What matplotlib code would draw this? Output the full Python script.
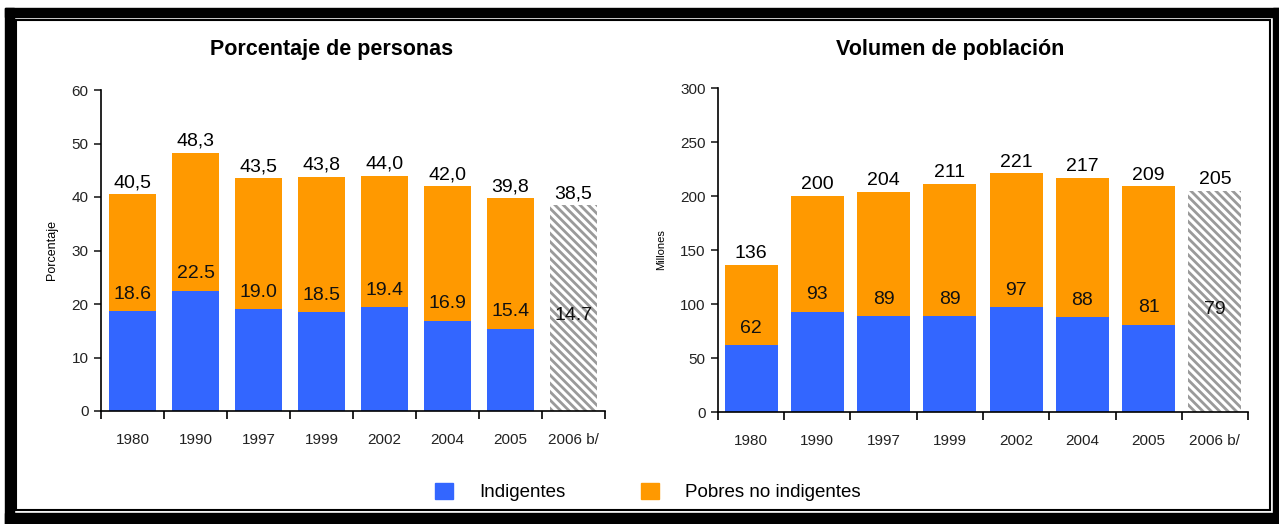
import matplotlib.pyplot as plt
from matplotlib.patches import Rectangle
from matplotlib.ticker import FixedLocator
import numpy as np

plt.rcParams['font.family'] = ['Liberation Sans', 'DejaVu Sans']
plt.rcParams['hatch.linewidth'] = 2.0

years = ['1980', '1990', '1997', '1999', '2002', '2004', '2005', '2006 b/']
pct_total = [40.5, 48.3, 43.5, 43.8, 44.0, 42.0, 39.8, 38.5]
pct_indig = [18.6, 22.5, 19.0, 18.5, 19.4, 16.9, 15.4, 14.7]
mill_total = [136, 200, 204, 211, 221, 217, 209, 205]
mill_indig = [62, 93, 89, 89, 97, 88, 81, 79]

BLUE = '#3366ff'
ORANGE = '#ff9900'
W, H = 1279, 524

fig = plt.figure(figsize=(W / 100, H / 100), dpi=100)


def px_axes(x0, y0, x1, y1):
    # pixel box (top-left origin) -> figure fraction
    return fig.add_axes([x0 / W, 1 - y1 / H, (x1 - x0) / W, (y1 - y0) / H])


def draw_panel(ax, total, indig, ymax, step, ylabel, width, fmt_top, fmt_ind, ylsize):
    x = np.arange(len(years))
    rest = [t - i for t, i in zip(total, indig)]
    b1 = ax.bar(x, indig, width, color=BLUE, linewidth=0)
    b2 = ax.bar(x, rest, width, bottom=indig, color=ORANGE, linewidth=0)
    # last year is an estimate: hatched grey
    for p in (b1[-1], b2[-1]):
        p.set_facecolor('white')
        p.set_edgecolor('#9a9a9a')
        p.set_hatch('\\\\\\\\')
        p.set_linewidth(0)
    for xi, t, i in zip(x, total, indig):
        ax.annotate(fmt_top(t), (xi, t), xytext=(0, 2), textcoords='offset points',
                    ha='center', va='bottom', fontsize=14)
        ax.annotate(fmt_ind(i), (xi, i), xytext=(0, 6), textcoords='offset points',
                    ha='center', va='bottom', fontsize=14, color='#111111')
    ax.set_xlim(-0.5, len(years) - 0.5)
    ax.set_ylim(0, ymax)
    ax.set_yticks(np.arange(0, ymax + 1, step))
    ax.set_xticks(x)
    ax.set_xticklabels(years)
    ax.xaxis.set_minor_locator(FixedLocator(np.arange(-0.5, len(years), 1)))
    ax.tick_params(axis='x', which='major', length=0, pad=16, labelsize=11, colors='#222222')
    ax.tick_params(axis='x', which='minor', length=6, width=1.2, direction='out')
    ax.tick_params(axis='y', length=5, width=1.2, labelsize=11, colors='#222222', pad=4)
    for s in ('top', 'right'):
        ax.spines[s].set_visible(False)
    for s in ('left', 'bottom'):
        ax.spines[s].set_linewidth(1.2)
    ax.set_ylabel(ylabel, fontsize=ylsize, labelpad=10)


ax1 = px_axes(101, 90, 605, 411)
draw_panel(ax1, pct_total, pct_indig, 60, 10, 'Porcentaje', 0.74,
           lambda v: f'{v:.1f}'.replace('.', ','), lambda v: f'{v:.1f}', 9)

ax2 = px_axes(718, 88, 1248, 412)
draw_panel(ax2, mill_total, mill_indig, 300, 50, 'Millones', 0.8,
           lambda v: f'{v:d}', lambda v: f'{v:d}', 8)

fig.text(332 / W, 1 - 50 / H, 'Porcentaje de personas', ha='center', va='center',
         fontsize=15.5, fontweight='bold')
fig.text(950 / W, 1 - 50 / H, 'Volumen de población', ha='center', va='center',
         fontsize=15.5, fontweight='bold')

handles = [Rectangle((0, 0), 1, 1, color=BLUE), Rectangle((0, 0), 1, 1, color=ORANGE)]
fig.legend(handles, ['Indigentes', 'Pobres no indigentes'], loc='center',
           bbox_to_anchor=(648 / W, 1 - 492 / H), ncol=2, frameon=False, fontsize=13.5,
           handlelength=0.95, handleheight=0.95, handletextpad=1.4, columnspacing=4.0)


# black frame around the whole picture
def band(x0, y0, x1, y1):
    fig.patches.append(Rectangle((x0 / W, 1 - y1 / H), (x1 - x0) / W, (y1 - y0) / H,
                                 transform=fig.transFigure, color='black', zorder=10))


band(5, 8, 14, 524)
band(5, 8, 1279, 17)
band(1273, 8, 1279, 524)
band(5, 513, 1279, 524)
fig.patches.append(Rectangle((16 / W, 1 - 510 / H), (1270 - 16) / W, (510 - 20) / H,
                             transform=fig.transFigure, fill=False, edgecolor='black',
                             linewidth=1.5, zorder=10))

fig.savefig('out.png', dpi=100)
